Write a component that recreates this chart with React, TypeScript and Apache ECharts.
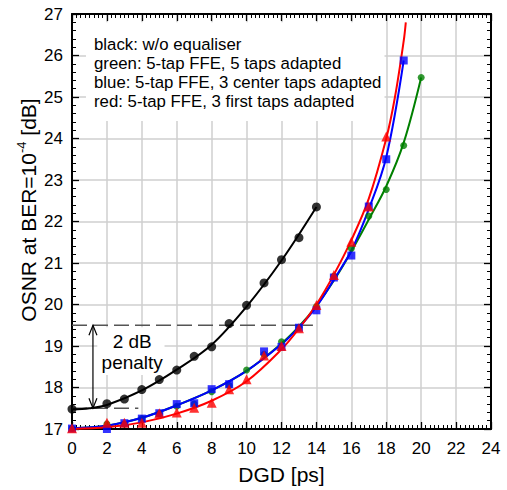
import React, { useEffect, useRef } from "react";
import * as echarts from "echarts";

const FONT = '"Liberation Sans", Arial, Helvetica, sans-serif';

// measured points
const blackX = [0, 2, 3, 4, 5, 6, 7, 8, 9, 10, 11, 12, 13, 14];
const blackY = [17.48, 17.61, 17.72, 17.95, 18.19, 18.42, 18.75, 18.98, 19.54, 19.98, 20.52, 21.08, 21.61, 22.35];

const greenX = [0, 2, 3, 4, 5, 6, 7, 8, 9, 10, 11, 12, 13, 14, 15, 16, 17, 18, 19, 20];
const greenY = [17.02, 17.12, 17.12, 17.25, 17.37, 17.55, 17.6, 17.9, 18.05, 18.42, 18.8, 19.1, 19.45, 19.95, 20.68, 21.35, 22.13, 22.77, 23.83, 25.47];

const blueX = [0, 2, 3, 4, 5, 6, 7, 8, 9, 11, 12, 13, 14, 15, 16, 17, 18, 19];
const blueY = [17.01, 17.0, 17.14, 17.25, 17.38, 17.6, 17.62, 17.96, 18.08, 18.87, 18.98, 19.44, 19.86, 20.65, 21.18, 22.36, 23.5, 25.88];

const redX = [0, 2, 3, 4, 5, 6, 7, 8, 9, 10, 11, 12, 13, 14, 15, 16, 17, 18];
const redY = [17.02, 17.15, 17.15, 17.15, 17.38, 17.4, 17.51, 17.63, 17.96, 18.2, 18.77, 19.0, 19.43, 19.99, 20.71, 21.51, 22.36, 24.05];

// fitted curves
const blackFitX = [0, 1, 2, 4, 6, 8, 10, 12, 14];
const blackFitY = [17.47, 17.5, 17.58, 17.93, 18.43, 19.03, 19.95, 21.06, 22.35];

const greenFitX = [0, 2, 4, 6, 8, 10, 12, 13, 14, 15, 16, 17, 18, 19, 20];
const greenFitY = [17.02, 17.08, 17.27, 17.57, 17.93, 18.4, 19.06, 19.47, 19.97, 20.58, 21.28, 22.05, 22.85, 23.9, 25.47];

const blueFitX = [0, 2, 4, 6, 8, 10, 12, 13, 14, 15, 16, 17, 18, 19];
const blueFitY = [17.02, 17.08, 17.27, 17.57, 17.93, 18.4, 19.04, 19.45, 19.95, 20.6, 21.3, 22.3, 23.55, 25.88];

const redFitX = [0, 2, 4, 6, 8, 10, 12, 13, 14, 15, 16, 17, 18, 18.5, 19, 19.12];
const redFitY = [17.0, 17.04, 17.16, 17.37, 17.68, 18.15, 18.92, 19.42, 20.0, 20.72, 21.55, 22.55, 24.0, 25.0, 26.35, 26.8];

// annotation values
const penaltyTop = 19.5;
const penaltyBottom = 17.5;
const penaltyArrowX = 1.2;
const upperDashEnd = 13.8;
const lowerDashEnd = 3.8;
const penaltyTextX = 3.45;
const penaltyText = ["2 dB", "penalty"];
const penaltyTextY = [19.12, 18.6];
const penaltyBox = [1.45, 18.3, 5.3, 19.45];
const legendBox = [0.8, 24.42, 17.9, 26.8];

const legendLines = [
  "black: w/o equaliser",
  "green: 5-tap FFE, 5 taps adapted",
  "blue: 5-tap FFE, 3 center taps adapted",
  "red: 5-tap FFE, 3 first taps adapted",
];

const xTicksMin = 0, xTicksMax = 24, xTickStep = 2;
const yTicksMin = 17, yTicksMax = 27, yTickStep = 1;

const zip = (xs: number[], ys: number[]) => xs.map((x, i) => [x, ys[i]]);

export default function App() {
  const ref = useRef<HTMLDivElement>(null);
  useEffect(() => {
    if (!ref.current) return;
    const chart = echarts.init(ref.current, undefined, { renderer: "svg" });

    const axisCommon = {
      type: "value" as const,
      axisLine: { show: true, onZero: false, lineStyle: { color: "#000", width: 2 } },
      axisTick: { show: true, inside: true, length: 7, lineStyle: { color: "#000", width: 1.3 } },
    };

    const fitLine = (name: string, xs: number[], ys: number[], color: string) => ({
      name,
      type: "line",
      data: zip(xs, ys),
      smooth: 0.35,
      showSymbol: false,
      symbol: "none",
      lineStyle: { color, width: 2 },
      z: 2,
    });
    const pts = (name: string, xs: number[], ys: number[], color: string, symbol: string, size: number) => ({
      name,
      type: "scatter",
      data: zip(xs, ys),
      symbol,
      symbolSize: size,
      itemStyle: { color },
      z: 3,
      clip: false,
    });

    const option: any = {
      animation: false,
      backgroundColor: "#fff",
      grid: { left: 72, right: 16, top: 14, bottom: 58, containLabel: false },
      xAxis: [
        {
          ...axisCommon,
          position: "bottom",
          min: xTicksMin,
          max: xTicksMax,
          interval: xTickStep,
          minorTick: { show: true, splitNumber: 8, length: 4, lineStyle: { color: "#000", width: 1 } },
          splitLine: { show: true, lineStyle: { color: "#cfcfcf", width: 1.5 } },
          axisLabel: { color: "#000", fontSize: 17, fontFamily: FONT, margin: 11 },
          name: "DGD [ps]",
          nameLocation: "middle",
          nameGap: 35,
          nameTextStyle: { color: "#000", fontSize: 21, fontFamily: FONT },
        },
        {
          ...axisCommon,
          position: "top",
          min: xTicksMin,
          max: xTicksMax,
          interval: xTickStep,
          minorTick: { show: true, splitNumber: 8, length: 4, lineStyle: { color: "#000", width: 1 } },
          splitLine: { show: false },
          axisLabel: { show: false },
        },
      ],
      yAxis: [
        {
          ...axisCommon,
          position: "left",
          min: yTicksMin,
          max: yTicksMax,
          interval: yTickStep,
          minorTick: { show: true, splitNumber: 5, length: 4, lineStyle: { color: "#000", width: 1 } },
          splitLine: { show: true, lineStyle: { color: "#cfcfcf", width: 1.5 } },
          axisLabel: { color: "#000", fontSize: 17, fontFamily: FONT, margin: 9 },
        },
        {
          ...axisCommon,
          position: "right",
          min: yTicksMin,
          max: yTicksMax,
          interval: yTickStep,
          minorTick: { show: true, splitNumber: 5, length: 4, lineStyle: { color: "#000", width: 1 } },
          splitLine: { show: false },
          axisLabel: { show: false },
        },
      ],
      graphic: [
        {
          type: "text",
          x: 27,
          y: 210,
          rotation: Math.PI / 2,
          z: 100,
          style: {
            text: "{m|OSNR at BER=10}{s|-4}{m| [dB]}",
            align: "center",
            verticalAlign: "middle",
            fill: "#000",
            rich: {
              m: { fontSize: 21, fontFamily: FONT, fill: "#000", lineHeight: 24, verticalAlign: "bottom" },
              s: { fontSize: 13, fontFamily: FONT, fill: "#000", lineHeight: 24, verticalAlign: "top" },
            },
          },
        },
        ...legendLines.map((t, i) => ({
          type: "text",
          x: 94,
          y: 44 + i * 19.2,
          z: 100,
          style: {
            text: t,
            align: "left",
            verticalAlign: "middle",
            fontSize: 16.8,
            fontFamily: FONT,
            fill: "#000",
          },
        })),
      ],
      series: [
        {
          type: "custom",
          xAxisIndex: 0,
          yAxisIndex: 0,
          z: 1,
          silent: true,
          data: [[penaltyArrowX, penaltyBottom]],
          renderItem: (_p: any, api: any) => {
            const lb1 = api.coord([legendBox[0], legendBox[3]]);
            const lb2 = api.coord([legendBox[2], legendBox[1]]);
            const pb1 = api.coord([penaltyBox[0], penaltyBox[3]]);
            const pb2 = api.coord([penaltyBox[2], penaltyBox[1]]);
            return {
              type: "group",
              children: [
                { type: "rect", shape: { x: lb1[0], y: lb1[1], width: lb2[0] - lb1[0], height: lb2[1] - lb1[1] }, style: { fill: "#fff" } },
                { type: "rect", shape: { x: pb1[0], y: pb1[1], width: pb2[0] - pb1[0], height: pb2[1] - pb1[1] }, style: { fill: "#fff" } },
              ],
            };
          },
        },
        {
          name: "dash-upper",
          type: "line",
          data: [[0, penaltyTop], [upperDashEnd, penaltyTop]],
          symbol: "none",
          lineStyle: { color: "#555", width: 1.4, type: [15, 6] },
          z: 2,
        },
        {
          name: "dash-lower",
          type: "line",
          data: [[0, penaltyBottom], [lowerDashEnd, penaltyBottom]],
          symbol: "none",
          lineStyle: { color: "#555", width: 1.4, type: [15, 6] },
          z: 2,
        },
        {
          type: "custom",
          xAxisIndex: 0,
          yAxisIndex: 0,
          z: 4,
          silent: true,
          data: [[penaltyArrowX, penaltyBottom]],
          renderItem: (_p: any, api: any) => {
            const top = api.coord([penaltyArrowX, penaltyTop]);
            const bot = api.coord([penaltyArrowX, penaltyBottom]);
            const h = 10, w = 4;
            const stroke = { stroke: "#000", lineWidth: 1.2, fill: null };
            const texts = penaltyText.map((t, i) => {
              const c = api.coord([penaltyTextX, penaltyTextY[i]]);
              return {
                type: "text",
                x: c[0],
                y: c[1],
                style: { text: t, align: "center", verticalAlign: "middle", fontSize: 19, fontFamily: FONT, fill: "#000" },
              };
            });
            return {
              type: "group",
              children: [
                { type: "line", shape: { x1: top[0], y1: top[1], x2: bot[0], y2: bot[1] }, style: stroke },
                { type: "polyline", shape: { points: [[top[0] - w, top[1] + h], [top[0], top[1]], [top[0] + w, top[1] + h]] }, style: stroke },
                { type: "polyline", shape: { points: [[bot[0] - w, bot[1] - h], [bot[0], bot[1]], [bot[0] + w, bot[1] - h]] }, style: stroke },
                ...texts,
              ],
            };
          },
        },
        fitLine("black fit", blackFitX, blackFitY, "#000"),
        fitLine("green fit", greenFitX, greenFitY, "#008000"),
        fitLine("blue fit", blueFitX, blueFitY, "#0000ff"),
        fitLine("red fit", redFitX, redFitY, "#ff0000"),
        pts("black", blackX, blackY, "#000", "circle", 9),
        pts("green", greenX, greenY, "#008000", "circle", 7),
        pts("blue", blueX, blueY, "#0000ff", "rect", 8),
        pts("red", redX, redY, "#ff0000", "triangle", 10),
      ],
    };
    chart.setOption(option);
    return () => chart.dispose();
  }, []);

  return (
    <div
      ref={ref}
      style={{ position: "fixed", left: 0, top: 0, width: 507, height: 490, background: "#fff" }}
    />
  );
}
